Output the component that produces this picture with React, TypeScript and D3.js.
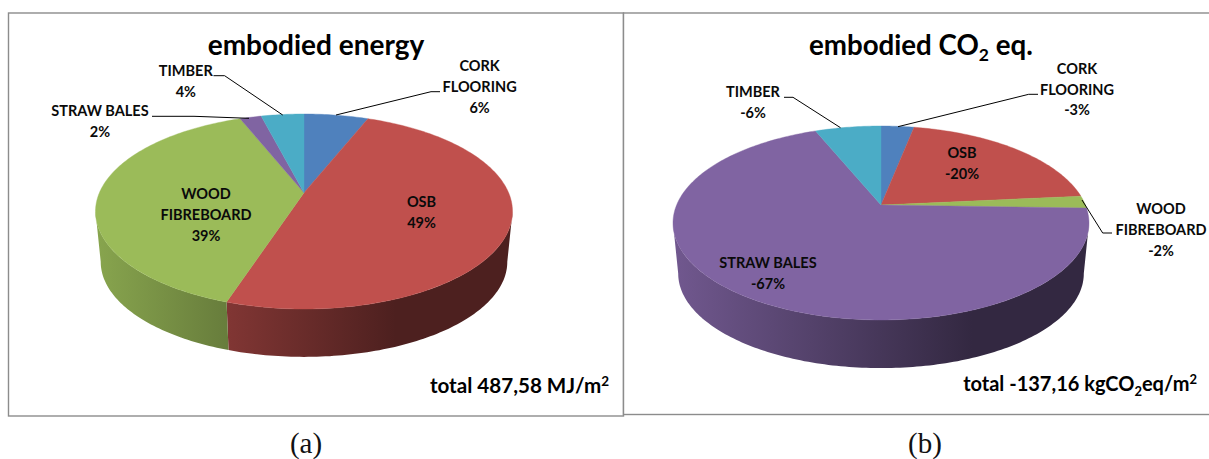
import React from "react";
import * as d3 from "d3";

// Wall-layer shares of each total, in percent.
const categories = ["CORK FLOORING", "OSB", "WOOD FIBREBOARD", "STRAW BALES", "TIMBER"];
const energyShares = [6, 49, 39, 2, 4];
const carbonShares = [-3, -20, -2, -67, -6];
const sliceColors = ["#4f81bd", "#c0504d", "#9bbb59", "#8064a2", "#4bacc6"];

const WIDTH = 1209;
const HEIGHT = 459;
const TAU = Math.PI * 2;
const LABEL_FONT = "Lato, Carlito, Calibri, sans-serif";

type Pt = [number, number];
type LabelBox = { x: number; y: number; lines: string[]; leader?: Pt[] };

type PieSpec = {
  id: string;
  values: number[];
  cx: number;
  apexY: number; // where the slice tips meet on the top face
  rimBelow: number; // screen distance from the tip to the near rim
  rimAbove: number; // screen distance from the tip to the far rim
  halfWidth: number; // widest half extent of the top face
  baseApexY: number;
  baseScale: number;
  labels: LabelBox[];
};

const wrapped: string[][] = [["CORK", "FLOORING"], ["OSB"], ["WOOD", "FIBREBOARD"], ["STRAW BALES"], ["TIMBER"]];
const linesFor = (i: number, text: string) => [...wrapped[i], text];

const pies: PieSpec[] = [
  {
    id: "a",
    values: energyShares,
    cx: 304,
    apexY: 192.7,
    rimBelow: 116.3,
    rimAbove: 78.7,
    halfWidth: 208.5,
    baseApexY: 243.5,
    baseScale: 0.975,
    labels: [
      { x: 479.6, y: 66, lines: linesFor(0, "6%"), leader: [[440, 91.7], [431, 91.7], [336, 115]] },
      { x: 421.5, y: 201.7, lines: linesFor(1, "49%") },
      { x: 206, y: 194, lines: linesFor(2, "39%") },
      { x: 100, y: 111, lines: linesFor(3, "2%"), leader: [[152, 116.3], [194, 116.3], [249, 118.3]] },
      { x: 185.8, y: 70.7, lines: linesFor(4, "4%"), leader: [[213.5, 75.7], [224.6, 75.7], [282.7, 115]] },
    ],
  },
  {
    id: "b",
    values: carbonShares,
    cx: 881,
    apexY: 205,
    rimBelow: 115,
    rimAbove: 79,
    halfWidth: 208,
    baseApexY: 256,
    baseScale: 0.975,
    labels: [
      { x: 1077, y: 68.7, lines: linesFor(0, "-3%"), leader: [[1038, 94.3], [1028.7, 94.3], [898, 126.7]] },
      { x: 962, y: 153, lines: linesFor(1, "-20%") },
      { x: 1161, y: 209, lines: linesFor(2, "-2%"), leader: [[1082, 200], [1102.7, 233], [1112, 233]] },
      { x: 768, y: 262.7, lines: linesFor(3, "-67%") },
      { x: 753, y: 92.3, lines: linesFor(4, "-6%"), leader: [[784, 97.3], [793, 97.3], [840.5, 127.7]] },
    ],
  },
];

// Perspective projection of a flat disc: the far rim shrinks, the near rim grows.
function makeProjection(p: PieSpec) {
  const k = (p.rimBelow - p.rimAbove) / (p.rimBelow + p.rimAbove);
  const ry = p.rimAbove * (1 + k);
  const rx = p.halfWidth * Math.sqrt(1 - k * k);
  const project = (angle: number, apexY: number, scale: number): Pt => {
    const u = Math.sin(angle);
    const v = Math.cos(angle);
    const w = 1 + k * v;
    return [p.cx + (scale * rx * u) / w, apexY - (scale * ry * v) / w];
  };
  // Rim angles at which the top face reaches its widest extent.
  const silhouette = Math.acos(-k);
  return { project, frontStart: silhouette, frontEnd: TAU - silhouette };
}

const pathOf = d3.line<Pt>();

function sweep(a0: number, a1: number) {
  const n = Math.max(2, Math.ceil(((a1 - a0) / TAU) * 360));
  return d3.range(n + 1).map((i) => a0 + ((a1 - a0) * i) / n);
}

const shade = (color: string, f: number) => d3.interpolateRgb("#000000", color)(f);
const sideShades: [number, number][] = [[0, 0.88], [0.33, 0.66], [0.72, 0.4], [1, 0.4]];

function Pie({ spec }: { spec: PieSpec }) {
  const { project, frontStart, frontEnd } = makeProjection(spec);
  const arcs = d3
    .pie<number>()
    .sort(null)
    .value((d) => Math.abs(d))(spec.values);

  return (
    <g>
      <defs>
        {sliceColors.map((c, i) => (
          <linearGradient
            key={i}
            id={`side-${spec.id}-${i}`}
            gradientUnits="userSpaceOnUse"
            x1={spec.cx - spec.halfWidth}
            x2={spec.cx + spec.halfWidth}
            y1={0}
            y2={0}
          >
            {sideShades.map(([o, f]) => (
              <stop key={o} offset={o} stopColor={shade(c, f)} />
            ))}
          </linearGradient>
        ))}
      </defs>

      {arcs.map((a, i) => {
        const from = Math.max(a.startAngle, frontStart);
        const to = Math.min(a.endAngle, frontEnd);
        if (to <= from) return null;
        const angles = sweep(from, to);
        const rim = angles.map((t) => project(t, spec.apexY, 1));
        const base = angles.map((t) => project(t, spec.baseApexY, spec.baseScale)).reverse();
        return (
          <path
            key={i}
            d={pathOf([...rim, ...base])! + "Z"}
            fill={`url(#side-${spec.id}-${i})`}
          />
        );
      })}

      {arcs.map((a, i) => {
        const rim = sweep(a.startAngle, a.endAngle).map((t) => project(t, spec.apexY, 1));
        return (
          <path
            key={i}
            d={pathOf([[spec.cx, spec.apexY], ...rim])! + "Z"}
            fill={sliceColors[i]}
            stroke={sliceColors[i]}
            strokeWidth={0.4}
          />
        );
      })}

      {spec.labels.map((l, i) => (
        <g key={i}>
          {l.leader && <path d={pathOf(l.leader)!} fill="none" stroke="#000" strokeWidth={1} />}
          <text
            textAnchor="middle"
            fontFamily={LABEL_FONT}
            fontWeight={700}
            fontSize={14.5}
            fill="#0a0a0a"
          >
            {l.lines.map((t, j) => (
              <tspan key={j} x={l.x} y={l.y + 5 + j * 20.8}>
                {t}
              </tspan>
            ))}
          </text>
        </g>
      ))}
    </g>
  );
}

export default function App() {
  const headline = { fontFamily: LABEL_FONT, fontWeight: 700, fill: "#000" };
  const caption = { fontFamily: "'Liberation Serif', serif", fontSize: 29, fill: "#111" };
  return (
    <svg
      width={WIDTH}
      height={HEIGHT}
      viewBox={`0 0 ${WIDTH} ${HEIGHT}`}
      style={{ position: "absolute", left: 0, top: 0, background: "#fff" }}
    >
      <rect x={8.5} y={13} width={615} height={403} fill="#fff" stroke="#8c8c8c" strokeWidth={1.4} />
      <rect x={623.5} y={13} width={600} height={401.5} fill="#fff" stroke="#8c8c8c" strokeWidth={1.4} />

      {pies.map((p) => (
        <Pie key={p.id} spec={p} />
      ))}

      <text x={316} y={55} textAnchor="middle" fontSize={28} {...headline}>
        embodied energy
      </text>
      <text x={809} y={55} fontSize={27.7} {...headline}>
        embodied CO
        <tspan fontSize={17.5} dy={6}>2</tspan>
        <tspan dy={-6}> eq.</tspan>
      </text>

      <text x={609} y={393} textAnchor="end" fontSize={20.6} {...headline}>
        total 487,58 MJ/m
        <tspan fontSize={13.5} dy={-7}>2</tspan>
      </text>
      <text x={1197} y={391} textAnchor="end" fontSize={20} {...headline}>
        total -137,16 kgCO
        <tspan fontSize={13} dy={5}>2</tspan>
        <tspan dy={-5}>eq/m</tspan>
        <tspan fontSize={13} dy={-7}>2</tspan>
      </text>

      <text x={306} y={453} textAnchor="middle" {...caption}>(a)</text>
      <text x={925} y={453} textAnchor="middle" {...caption}>(b)</text>
    </svg>
  );
}
